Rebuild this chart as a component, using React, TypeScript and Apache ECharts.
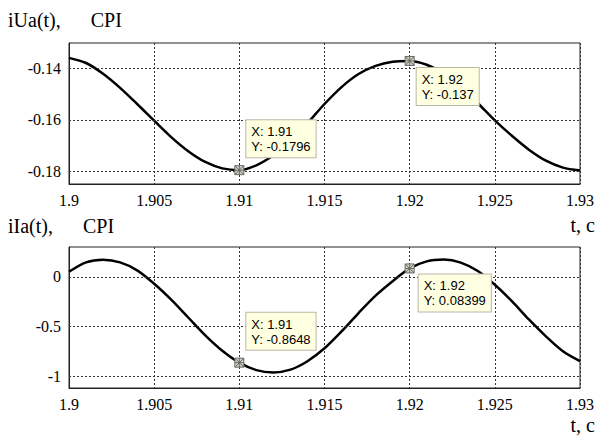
import React, { useEffect, useRef } from "react";
import * as echarts from "echarts";

const t = [
  1.900, 1.901, 1.902, 1.903, 1.904, 1.905, 1.906, 1.907, 1.908, 1.909,
  1.910, 1.911, 1.912, 1.913, 1.914, 1.915, 1.916, 1.917, 1.918, 1.919,
  1.920, 1.921, 1.922, 1.923, 1.924, 1.925, 1.926, 1.927, 1.928, 1.929, 1.930,
];
const iUa = [
  -0.1358, -0.1378, -0.1420, -0.1475, -0.1538, -0.1603, -0.1667, -0.1722, -0.1764, -0.1789,
  -0.1796, -0.1777, -0.1738, -0.1683, -0.1613, -0.1538, -0.1472, -0.1421, -0.1389, -0.1373,
  -0.1370, -0.1385, -0.1420, -0.1472, -0.1535, -0.1602, -0.1662, -0.1716, -0.1759, -0.1786, -0.1797,
];
const iIa = [
  0.050, 0.145, 0.172, 0.145, 0.065, -0.070, -0.230, -0.410, -0.590, -0.745,
  -0.8648, -0.940, -0.963, -0.935, -0.850, -0.720, -0.550, -0.365, -0.190, -0.045,
  0.08399, 0.155, 0.173, 0.143, 0.058, -0.080, -0.245, -0.430, -0.600, -0.750, -0.850,
];
const uaTicks = [-0.18, -0.16, -0.14];
const iaTicks = [-1, -0.5, 0];
const uaTips = [
  { x: 1.91, y: -0.1796, pos: [12, -45] },
  { x: 1.92, y: -0.137, pos: [12, 12] },
];
const iaTips = [
  { x: 1.91, y: -0.8648, pos: [12, -45] },
  { x: 1.92, y: 0.08399, pos: [14, 11] },
];

const SERIF = "Liberation Serif";
const SANS = "Liberation Sans";

const markerPath = "path://M0 0L10 0L10 10L0 10Z M0 0L10 10 M10 0L0 10 M5 0L5 10 M0 5L10 5";

function pickLabel(list: number[]) {
  return (v: number) => {
    const hit = list.find((g) => Math.abs(g - v) < 1e-9);
    return hit === undefined ? "" : String(hit);
  };
}

function tipData(list: { x: number; y: number; pos: number[] }[]) {
  return list.map((p) => ({
    coord: [p.x, p.y],
    value: p.y,
    label: {
      show: true,
      position: p.pos,
      formatter: `X: ${p.x}\nY: ${p.y}`,
      fontFamily: SANS,
    },
  }));
}

export default function App() {
  const ref = useRef<HTMLDivElement>(null);
  useEffect(() => {
    document.body.style.margin = "0";
    if (!ref.current) return;
    const chart = echarts.init(ref.current, undefined, { renderer: "svg" });
    const axisLabelStyle = {
      color: "#000",
      fontFamily: SERIF,
      fontSize: 16,
      fontWeight: "normal" as const,
      margin: 8,
    };
    const xAxisBase = {
      type: "value" as const,
      min: 1.9,
      max: 1.93,
      interval: 0.005,
      axisLine: { show: true, onZero: false, lineStyle: { color: "#222", width: 1 } },
      axisTick: { show: false },
      axisLabel: { ...axisLabelStyle },
      splitLine: { show: true, lineStyle: { color: "#333", type: [2, 2], width: 1 } },
    };
    const gridLineStyle = { color: "#333", type: [2, 2], width: 1 };
    const markerCommon = {
      symbol: markerPath,
      symbolSize: 9,
      itemStyle: { color: "#d4d4c4", borderColor: "#666", borderWidth: 1 },
      label: {
        color: "#000",
        fontFamily: SANS,
        fontSize: 13,
        lineHeight: 15,
        backgroundColor: "#ffffe1",
        borderColor: "#b8b8a8",
        borderWidth: 1,
        padding: [4, 5, 3, 5],
        align: "left",
        verticalAlign: "top",
      },
    };
    chart.setOption({
      animation: false,
      textStyle: { fontFamily: SERIF },
      grid: [
        { left: 69, right: 15, top: 43, height: 141, show: true, borderColor: "#222", borderWidth: 1, backgroundColor: "#fff" },
        { left: 69, right: 15, top: 247, height: 141, show: true, borderColor: "#222", borderWidth: 1, backgroundColor: "#fff" },
      ],
      xAxis: [
        { ...xAxisBase, gridIndex: 0 },
        { ...xAxisBase, gridIndex: 1 },
      ],
      yAxis: [
        {
          type: "value",
          gridIndex: 0,
          min: -0.185,
          max: -0.13,
          interval: 0.005,
          axisLine: { show: true, lineStyle: { color: "#222" } },
          axisTick: { show: false },
          splitLine: { show: false },
          axisLabel: { ...axisLabelStyle, formatter: pickLabel(uaTicks) },
        },
        {
          type: "value",
          gridIndex: 1,
          min: -1.12,
          max: 0.3,
          interval: 0.02,
          axisLine: { show: true, lineStyle: { color: "#222" } },
          axisTick: { show: false },
          splitLine: { show: false },
          axisLabel: { ...axisLabelStyle, formatter: pickLabel(iaTicks) },
        },
      ],
      series: [
        {
          type: "line",
          xAxisIndex: 0,
          yAxisIndex: 0,
          data: t.map((x, i) => [x, iUa[i]]),
          smooth: 0.3,
          showSymbol: false,
          lineStyle: { color: "#000", width: 2.5 },
          markLine: {
            silent: true,
            symbol: ["none", "none"],
            label: { show: false },
            lineStyle: gridLineStyle,
            data: uaTicks.map((v) => ({ yAxis: v })),
          },
          markPoint: { ...markerCommon, data: tipData(uaTips) },
        },
        {
          type: "line",
          xAxisIndex: 1,
          yAxisIndex: 1,
          data: t.map((x, i) => [x, iIa[i]]),
          smooth: 0.3,
          showSymbol: false,
          lineStyle: { color: "#000", width: 2.5 },
          markLine: {
            silent: true,
            symbol: ["none", "none"],
            label: { show: false },
            lineStyle: gridLineStyle,
            data: iaTicks.map((v) => ({ yAxis: v })),
          },
          markPoint: { ...markerCommon, data: tipData(iaTips) },
        },
      ],
      graphic: [
        { type: "text", x: 8, y: 20, style: { text: "iUa(t),      CPI", font: `20px ${SERIF}`, fill: "#000", align: "left", verticalAlign: "middle" } },
        { type: "text", x: 8, y: 226, style: { text: "iIa(t),      CPI", font: `20px ${SERIF}`, fill: "#000", align: "left", verticalAlign: "middle" } },
        { type: "text", x: 595, y: 225, style: { text: "t, c", font: `20px ${SERIF}`, fill: "#000", align: "right", verticalAlign: "middle" } },
        { type: "text", x: 595, y: 425, style: { text: "t, c", font: `20px ${SERIF}`, fill: "#000", align: "right", verticalAlign: "middle" } },
      ],
    });
    return () => chart.dispose();
  }, []);
  return <div ref={ref} style={{ width: 597, height: 437 }} />;
}
